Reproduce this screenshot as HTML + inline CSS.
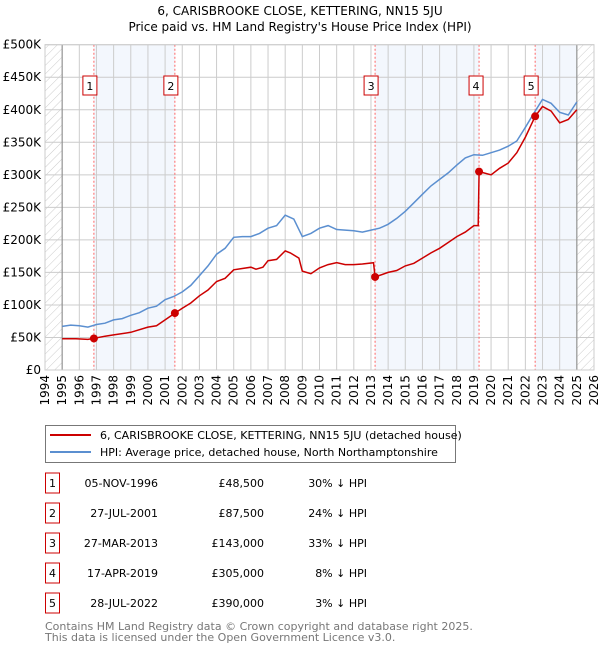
<!DOCTYPE html>
<html><head><meta charset="utf-8"><style>
body{margin:0;background:#fff;font-family:"DejaVu Sans","Liberation Sans",sans-serif;}
svg text{font-family:"DejaVu Sans","Liberation Sans",sans-serif;}
</style></head><body>
<svg id="c" width="600" height="650" viewBox="0 0 600 650" xmlns="http://www.w3.org/2000/svg">
<text x="300" y="15" text-anchor="middle" font-size="12">6, CARISBROOKE CLOSE, KETTERING, NN15 5JU</text>
<text x="300" y="31" text-anchor="middle" font-size="12">Price paid vs. HM Land Registry's House Price Index (HPI)</text>
<defs><pattern id="h" width="6" height="6" patternUnits="userSpaceOnUse" patternTransform="rotate(45)"><line x1="0" y1="0" x2="0" y2="6" stroke="#ccc" stroke-width="1"/></pattern></defs>
<g id="plot"></g>
<g>
<rect x="45.5" y="425.5" width="410" height="37" fill="#fff" stroke="#777"/>
<line x1="50" y1="435" x2="91" y2="435" stroke="#cc0000" stroke-width="2"/>
<text x="100" y="439" font-size="11">6, CARISBROOKE CLOSE, KETTERING, NN15 5JU (detached house)</text>
<line x1="50" y1="452" x2="91" y2="452" stroke="#5b8fd0" stroke-width="2"/>
<text x="100" y="456" font-size="11">HPI: Average price, detached house, North Northamptonshire</text>
</g>
<g id="tbl" font-size="11"></g>
<text x="45" y="630" font-size="11" fill="#777">Contains HM Land Registry data © Crown copyright and database right 2025.</text>
<text x="45" y="641" font-size="11" fill="#777">This data is licensed under the Open Government Licence v3.0.</text>
</svg>
<script>
const hpiYears=[1995,1995.5,1996,1996.5,1997,1997.5,1998,1998.5,1999,1999.5,2000,2000.5,2001,2001.5,2002,2002.5,2003,2003.5,2004,2004.5,2005,2005.5,2006,2006.5,2007,2007.5,2008,2008.5,2009,2009.5,2010,2010.5,2011,2011.5,2012,2012.5,2013,2013.5,2014,2014.5,2015,2015.5,2016,2016.5,2017,2017.5,2018,2018.5,2019,2019.5,2020,2020.5,2021,2021.5,2022,2022.5,2023,2023.5,2024,2024.5,2025];
const hpiValues=[67,69,68,66,70,72,77,79,84,88,95,98,108,113,120,130,145,160,178,187,204,205,205,210,218,222,238,232,205,210,218,222,216,215,214,212,215,218,224,233,244,257,270,283,293,303,315,326,331,330,334,338,344,352,373,395,416,410,396,392,412];
const ppYears=[1995,1995.8,1996.5,1996.85,1997.5,1998,1999,2000,2000.5,2001,2001.57,2002,2002.5,2003,2003.5,2004,2004.5,2005,2005.5,2006,2006.3,2006.7,2007,2007.5,2008,2008.3,2008.8,2009,2009.5,2010,2010.5,2011,2011.5,2012,2012.5,2013.15,2013.24,2014,2014.5,2015,2015.5,2016,2016.5,2017,2017.5,2018,2018.5,2019.0,2019.25,2019.3,2020,2020.5,2021,2021.5,2022,2022.57,2023,2023.5,2024,2024.5,2025];
const ppValues=[48,48,47,48.5,52,54,58,66,68,77,87.5,95,103,114,123,136,141,154,156,158,155,158,168,170,183,180,172,152,148,157,162,165,162,162,163,165,143,150,153,160,164,172,180,187,196,205,212,222,222,305,300,310,318,334,358,390,405,398,380,385,400];
const sales=[{n:"1",t:1996.85,v:48.5,d:"05-NOV-1996",p:"£48,500",h:"30% ↓ HPI"},{n:"2",t:2001.57,v:87.5,d:"27-JUL-2001",p:"£87,500",h:"24% ↓ HPI"},{n:"3",t:2013.24,v:143,d:"27-MAR-2013",p:"£143,000",h:"33% ↓ HPI"},{n:"4",t:2019.3,v:305,d:"17-APR-2019",p:"£305,000",h:"8% ↓ HPI"},{n:"5",t:2022.57,v:390,d:"28-JUL-2022",p:"£390,000",h:"3% ↓ HPI"}];
const yTicks=[0,50,100,150,200,250,300,350,400,450,500];
const yTickLabels=["£0","£50K","£100K","£150K","£200K","£250K","£300K","£350K","£400K","£450K","£500K"];
const xTicks=[1994,1995,1996,1997,1998,1999,2000,2001,2002,2003,2004,2005,2006,2007,2008,2009,2010,2011,2012,2013,2014,2015,2016,2017,2018,2019,2020,2021,2022,2023,2024,2025,2026];
const X0=45,X1=594,Y0=370,Y1=44.7;
const sx=t=>X0+(t-1994)/(2026-1994)*(X1-X0);
const sy=v=>Y0-v/500*(Y0-Y1);
const NS="http://www.w3.org/2000/svg";
const plot=document.getElementById('plot');
function mk(tag,attrs,parent){const e=document.createElementNS(NS,tag);for(const k in attrs)e.setAttribute(k,attrs[k]);(parent||plot).appendChild(e);return e;}
let e;
e=mk('rect',{x:X0,y:Y1,width:X1-X0,height:Y0-Y1,fill:'#fff'});


// shaded
const bands=[[0,1],[2,3],[4,null]];
bands.forEach(b=>{const a=sx(sales[b[0]].t),c=b[1]===null?sx(2025):sx(sales[b[1]].t);
e=mk('rect',{x:a,y:Y1,width:c-a,height:Y0-Y1,fill:'#eef3fc',opacity:0.7});

});
e=mk('rect',{x:X0,y:Y1,width:sx(1995)-X0,height:Y0-Y1,fill:'url(#h)'});


e=mk('rect',{x:sx(2025),y:Y1,width:X1-sx(2025),height:Y0-Y1,fill:'url(#h)'});


yTicks.forEach((v,i)=>{e=mk('line',{x1:X0,x2:X1,y1:sy(v),y2:sy(v),stroke:'#ccc'});


e=mk('text',{x:X0-4,y:sy(v)+4,'text-anchor':'end','font-size':12});e.textContent=yTickLabels[i];

});
xTicks.forEach(t=>{e=mk('line',{x1:sx(t),x2:sx(t),y1:Y1,y2:Y0,stroke:'#ccc'});


e=mk('text',{x:0,y:0,'font-size':12,'text-anchor':'end',transform:`translate(${sx(t)+4},${Y0+5}) rotate(-90)`});e.textContent=t;

});
e=mk('line',{x1:sx(1995),x2:sx(1995),y1:Y1,y2:Y0,stroke:'#888'});


e=mk('line',{x1:sx(2025),x2:sx(2025),y1:Y1,y2:Y0,stroke:'#888'});


sales.forEach(s=>{e=mk('line',{x1:sx(s.t),x2:sx(s.t),y1:Y1,y2:Y0,stroke:'#f66','stroke-dasharray':'2,2'});


const bx=sx(s.t)-7-(s.n==="1"||s.n==="2"||s.n==="3"||s.n==="5"?4:3);
e=mk('rect',{x:bx,y:76,width:14,height:19,fill:'#fff',stroke:'#c00'});


e=mk('text',{x:bx+7,y:90,'text-anchor':'middle','font-size':11});e.textContent=s.n;

});
const path=(xs,vs)=>xs.map((t,i)=>(i?'L':'M')+sx(t).toFixed(1)+','+sy(vs[i]).toFixed(1)).join('');
e=mk('path',{d:path(hpiYears,hpiValues),fill:'none',stroke:'#5b8fd0','stroke-width':1.5});


e=mk('path',{d:path(ppYears,ppValues),fill:'none',stroke:'#cc0000','stroke-width':1.5});


sales.forEach(s=>{e=mk('circle',{cx:sx(s.t),cy:sy(s.v),r:4,fill:'#cc0000'});

});
e=mk('rect',{x:X0,y:Y1,width:X1-X0,height:Y0-Y1,fill:'none',stroke:'#ccc'});


const tbl=document.getElementById('tbl');
sales.forEach((s,i)=>{const y=483+i*30;
e=mk('rect',{x:45.5,y:y-10,width:14,height:20,fill:'#fff',stroke:'#c00'},tbl);


e=mk('text',{x:52.5,y:y+4,'text-anchor':'middle'},tbl);e.textContent=s.n;


e=mk('text',{x:158,y:y+4,'text-anchor':'end'},tbl);e.textContent=s.d;


e=mk('text',{x:264,y:y+4,'text-anchor':'end'},tbl);e.textContent=s.p;


e=mk('text',{x:367,y:y+4,'text-anchor':'end'},tbl);e.textContent=s.h;

});
</script>
</body></html>
